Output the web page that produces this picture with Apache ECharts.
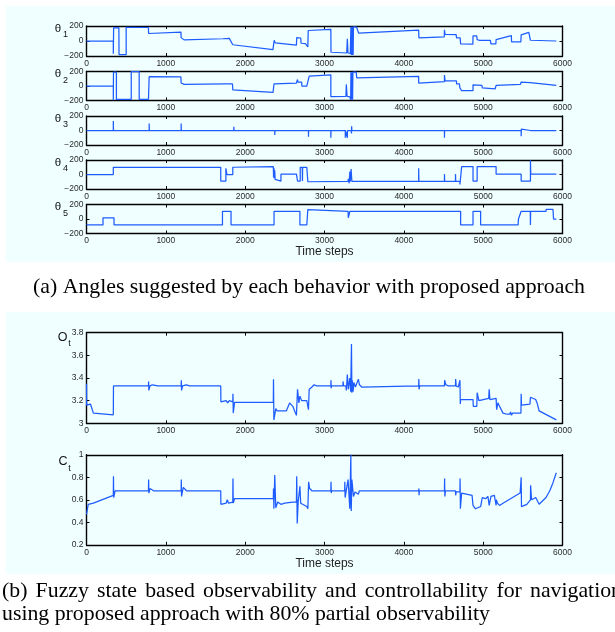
<!DOCTYPE html>
<html><head><meta charset="utf-8">
<script src="https://cdn.jsdelivr.net/npm/echarts@6/dist/echarts.min.js"></script>
<style>html,body{margin:0;padding:0;background:#fff}#c{width:615px;height:632px}</style>
</head><body><div id="c"></div>
<script>
// ---------------- data (time step, value) ----------------
const xTickValues = [0, 1000, 2000, 3000, 4000, 5000, 6000];
const thetaTicks = [-200, 0, 200];
const obsTicks = [3, 3.2, 3.4, 3.6, 3.8];
const ctrlTicks = [0.2, 0.4, 0.6, 0.8, 1];

const theta1 = [[0,0],[338,0],[338,-170],[342,175],[408,178],[410,-180],[500,-180],[500,182],[780,180],[783,100],[790,85],[800,100],[1190,118],[1193,45],[1230,15],[1720,30],[1800,35],[1844,-50],[2350,-115],[2364,-115],[2366,10],[2380,-25],[2646,-55],[2650,45],[2700,40],[2705,-30],[2760,-35],[2790,-80],[2795,140],[3080,155],[3082,-150],[3280,-160],[3288,30],[3296,-160],[3325,-165],[3330,-185],[3333,190],[3337,-185],[3341,190],[3345,-185],[3349,190],[3353,-185],[3357,190],[3361,-185],[3365,190],[3405,185],[3430,105],[4187,145],[4190,43],[4510,55],[4512,150],[4520,87],[4660,85],[4664,43],[4710,43],[4716,-38],[4870,-43],[4872,67],[4920,67],[4924,19],[4935,25],[4950,10],[5090,10],[5098,-38],[5160,-38],[5163,19],[5355,72],[5358,-10],[5475,-10],[5479,82],[5575,115],[5596,10],[5922,0]];

const theta2 = [[0,0],[338,0],[338,-195],[340,190],[377,190],[377,-185],[564,-185],[564,200],[664,200],[664,-185],[781,-185],[790,128],[800,118],[1190,125],[1193,41],[1230,22],[1750,31],[1840,28],[1844,-55],[2351,-89],[2364,31],[2646,41],[2660,89],[2665,55],[2712,55],[2715,-2],[2777,-2],[2790,-10],[2807,137],[3080,152],[3080,-147],[3270,-142],[3275,22],[3285,-142],[3320,-150],[3330,-190],[3333,190],[3338,-190],[3342,190],[3346,-190],[3350,190],[3354,-190],[3358,190],[3400,190],[3406,113],[4187,133],[4187,41],[4512,60],[4512,152],[4520,70],[4664,70],[4664,31],[4700,31],[4707,-26],[4729,-65],[4872,-65],[4872,17],[4880,7],[4985,7],[4989,-26],[5000,-41],[5150,-41],[5163,7],[5470,22],[5479,55],[5590,46],[5596,31],[5922,7]];

const theta3 = [[0,0],[338,0],[338,130],[340,0],[790,0],[790,95],[792,0],[1193,0],[1193,95],[1195,0],[1857,0],[1857,52],[1860,0],[2373,0],[2373,-62],[2375,0],[2660,0],[2662,-20],[2668,10],[2670,0],[2798,0],[2798,-86],[2800,0],[3080,0],[3080,-100],[3082,0],[3262,0],[3262,-100],[3264,0],[3288,0],[3288,-100],[3290,0],[3338,0],[3340,-40],[3342,57],[3345,0],[4512,0],[4512,-100],[4514,0],[4716,0],[4716,20],[4718,-20],[4720,0],[5479,0],[5479,-80],[5481,20],[5483,0],[5596,0],[5596,20],[5598,0],[5922,0]];

const theta4 = [[0,0],[338,0],[338,100],[1692,100],[1692,-90],[1757,-90],[1757,86],[1770,0],[1844,0],[1844,100],[1853,110],[2355,110],[2358,-40],[2362,90],[2366,-50],[2372,60],[2378,-67],[2386,-90],[2451,-90],[2451,5],[2646,5],[2660,-90],[2694,-90],[2694,100],[2720,100],[2722,-90],[2724,100],[2777,100],[2790,-100],[3297,-95],[3300,-60],[3310,-120],[3320,40],[3325,-100],[3335,76],[3345,-95],[4187,-95],[4187,86],[4190,-95],[4512,-95],[4512,5],[4515,-95],[4651,-95],[4651,5],[4654,-95],[4707,-95],[4707,-138],[4729,110],[4872,110],[4872,-90],[4924,-90],[4924,110],[5163,110],[5163,5],[5479,5],[5479,-90],[5596,-90],[5596,195],[5600,5],[5922,5]];

const theta5 = [[0,-82],[208,-82],[208,16],[347,16],[347,-82],[1714,-82],[1714,106],[1822,106],[1822,-82],[1850,-82],[1857,-60],[1862,-82],[2364,-82],[2364,106],[2620,106],[2625,120],[2630,106],[2690,106],[2690,-82],[2777,-82],[2790,130],[2800,106],[3297,106],[3300,16],[3310,60],[3319,106],[4716,106],[4716,-82],[4872,-82],[4872,106],[4968,106],[4968,-82],[5350,-82],[5358,-106],[5365,-82],[5440,-82],[5445,0],[5470,0],[5479,106],[5594,106],[5596,-82],[5598,106],[5792,106],[5795,134],[5880,134],[5887,0],[5922,0]];

const observability = [[0,3.35],[2,3.16],[50,3.17],[87,3.09],[338,3.075],[340,3.33],[360,3.345],[400,3.33],[781,3.33],[783,3.37],[786,3.29],[800,3.33],[830,3.34],[900,3.33],[1193,3.33],[1195,3.38],[1198,3.29],[1210,3.33],[1258,3.34],[1300,3.33],[1692,3.33],[1694,3.19],[1760,3.2],[1780,3.18],[1800,3.2],[1844,3.19],[1846,3.26],[1850,3.09],[1866,3.185],[2355,3.185],[2357,3.39],[2362,3.03],[2386,3.13],[2400,3.11],[2520,3.11],[2560,3.18],[2600,3.15],[2646,3.07],[2660,3.30],[2677,3.18],[2690,3.24],[2712,3.2],[2777,3.2],[2798,3.12],[2807,3.3],[2842,3.32],[2870,3.34],[2900,3.33],[3080,3.33],[3082,3.38],[3084,3.31],[3090,3.33],[3232,3.33],[3234,3.37],[3240,3.33],[3270,3.33],[3275,3.29],[3288,3.43],[3300,3.3],[3319,3.4],[3330,3.28],[3340,3.70],[3345,3.27],[3350,3.38],[3360,3.28],[3370,3.36],[3390,3.32],[3427,3.39],[3440,3.34],[3470,3.32],[4187,3.33],[4189,3.39],[4192,3.30],[4200,3.33],[4512,3.33],[4514,3.38],[4530,3.34],[4560,3.33],[4651,3.33],[4653,3.39],[4660,3.33],[4686,3.32],[4707,3.38],[4712,3.17],[4716,3.21],[4872,3.21],[4875,3.15],[4920,3.15],[4924,3.27],[4946,3.2],[4960,3.21],[5070,3.22],[5076,3.30],[5085,3.21],[5163,3.22],[5170,3.12],[5185,3.18],[5200,3.16],[5250,3.09],[5300,3.08],[5336,3.08],[5345,3.1],[5358,3.07],[5370,3.09],[5476,3.09],[5479,3.26],[5483,3.16],[5590,3.17],[5596,3.23],[5662,3.21],[5680,3.18],[5705,3.11],[5922,3.03]];

const controllability = [[0,0.47],[22,0.56],[43,0.55],[87,0.57],[338,0.64],[340,0.81],[343,0.62],[360,0.68],[390,0.68],[781,0.68],[783,0.78],[786,0.66],[800,0.70],[846,0.68],[1193,0.68],[1195,0.78],[1198,0.63],[1220,0.71],[1260,0.68],[1692,0.68],[1694,0.56],[1760,0.57],[1775,0.6],[1790,0.57],[1844,0.58],[1846,0.79],[1850,0.57],[1866,0.61],[2355,0.61],[2357,0.70],[2362,0.52],[2373,0.82],[2386,0.53],[2410,0.58],[2450,0.56],[2500,0.57],[2600,0.58],[2646,0.58],[2650,0.81],[2656,0.39],[2668,0.58],[2690,0.72],[2700,0.57],[2777,0.54],[2790,0.52],[2800,0.76],[2812,0.70],[2842,0.68],[3080,0.68],[3082,0.76],[3085,0.66],[3090,0.68],[3254,0.68],[3256,0.76],[3260,0.62],[3297,0.78],[3319,0.52],[3332,1.0],[3337,0.50],[3345,0.78],[3365,0.63],[3385,0.67],[3427,0.65],[3440,0.68],[3470,0.68],[4187,0.68],[4189,0.70],[4192,0.64],[4195,0.68],[4512,0.68],[4514,0.79],[4517,0.63],[4525,0.68],[4651,0.68],[4653,0.64],[4660,0.67],[4707,0.67],[4709,0.79],[4713,0.52],[4729,0.66],[4860,0.64],[4872,0.55],[4903,0.52],[4924,0.53],[4968,0.54],[4989,0.62],[5000,0.63],[5030,0.61],[5060,0.63],[5076,0.55],[5098,0.63],[5141,0.64],[5163,0.55],[5166,0.60],[5180,0.57],[5206,0.55],[5250,0.57],[5466,0.66],[5479,0.80],[5483,0.54],[5550,0.56],[5596,0.60],[5598,0.73],[5610,0.60],[5662,0.62],[5705,0.56],[5792,0.62],[5840,0.68],[5879,0.75],[5922,0.84]];

const captionA = '(a) Angles suggested by each behavior with proposed approach';
const captionB1 = '(b) Fuzzy state based observability and controllability for navigation';
const captionB2 = 'using proposed approach with 80% partial observability';
const xTitle = 'Time steps';

// ---------------- layout ----------------
const LINE = '#1e5cff';
const SANS = '"Liberation Sans", Arial, sans-serif';
const SERIF = '"Liberation Serif", "Times New Roman", serif';
const PL = 86.5, PW = 476;

const panels = [
  {data: theta1, ticks: thetaTicks, top: 26,    h: 30,   lab: 'θ', sub: '1'},
  {data: theta2, ticks: thetaTicks, top: 71.5,  h: 29,   lab: 'θ', sub: '2'},
  {data: theta3, ticks: thetaTicks, top: 116,   h: 29,   lab: 'θ', sub: '3'},
  {data: theta4, ticks: thetaTicks, top: 160,   h: 29,   lab: 'θ', sub: '4'},
  {data: theta5, ticks: thetaTicks, top: 204.5, h: 29,   lab: 'θ', sub: '5'},
  {data: observability, ticks: obsTicks, top: 332.7, h: 90.6, lab: 'O', sub: 't'},
  {data: controllability, ticks: ctrlTicks, top: 454.8, h: 90, lab: 'C', sub: 't'}
];

function fmtY(v) {
  const r = Math.round(v * 10) / 10;
  return r < 0 ? '\u2212' + String(-r) : String(r);
}
function fmtX(v) { return String(Math.round(v)); }

const grid = [], xAxis = [], yAxis = [], series = [];
const axLine = {show: true, onZero: false, lineStyle: {color: '#000', width: 1.4}};
const axTick = {show: true, inside: true, length: 3, lineStyle: {color: '#000', width: 1}};
const tickFont = {fontSize: 8.5, color: '#2a2a2a', margin: 3, fontFamily: SANS, showMinLabel: true, showMaxLabel: true};
panels.forEach((p, i) => {
  grid.push({left: PL, top: p.top, width: PW, height: p.h, containLabel: false});
  const xmin = xTickValues[0], xmax = xTickValues[xTickValues.length - 1];
  const xint = xTickValues[1] - xTickValues[0];
  const ymin = p.ticks[0], ymax = p.ticks[p.ticks.length - 1];
  const yint = +(p.ticks[1] - p.ticks[0]).toFixed(6);
  xAxis.push({type: 'value', gridIndex: i, position: 'bottom', min: xmin, max: xmax, interval: xint,
    axisLine: axLine, axisTick: axTick, splitLine: {show: false},
    axisLabel: Object.assign({formatter: fmtX}, tickFont)});
  xAxis.push({type: 'value', gridIndex: i, position: 'top', min: xmin, max: xmax, interval: xint,
    axisLine: axLine, axisTick: axTick, splitLine: {show: false}, axisLabel: {show: false}});
  yAxis.push({type: 'value', gridIndex: i, position: 'left', min: ymin, max: ymax, interval: yint,
    axisLine: axLine, axisTick: axTick, splitLine: {show: false},
    axisLabel: Object.assign({formatter: fmtY}, tickFont)});
  yAxis.push({type: 'value', gridIndex: i, position: 'right', min: ymin, max: ymax, interval: yint,
    axisLine: axLine, axisTick: axTick, splitLine: {show: false}, axisLabel: {show: false}});
  series.push({type: 'line', xAxisIndex: 2 * i, yAxisIndex: 2 * i, data: p.data, showSymbol: false, symbol: 'none',
    lineStyle: {color: LINE, width: 1.25}, silent: true, clip: true});
});

function txt(x, y, text, size, family, align, valign, fill) {
  return {type: 'text', x: x, y: y, z: 10, silent: true,
    style: {text: text, fontSize: size, fontFamily: family, fill: fill || '#000',
      align: align, textAlign: align, verticalAlign: valign, textVerticalAlign: valign}};
}

const graphic = [
  {type: 'rect', shape: {x: 6, y: 6, width: 609, height: 256}, style: {fill: '#f0ffff'}, z: -10, silent: true},
  {type: 'rect', shape: {x: 6, y: 312, width: 609, height: 262}, style: {fill: '#f0ffff'}, z: -10, silent: true}
];
panels.forEach((p, i) => {
  if (i < 5) {
    graphic.push(txt(58, p.top + 2.5, p.lab, 11.5, SANS, 'center', 'middle', '#111'));
    graphic.push(txt(65.5, p.top + 9, p.sub, 9, SANS, 'center', 'middle', '#111'));
  } else if (i === 5) {
    graphic.push(txt(62.5, p.top + 4.5, p.lab, 12.5, SANS, 'center', 'middle', '#111'));
    graphic.push(txt(69.5, p.top + 11, p.sub, 9, SANS, 'center', 'middle', '#111'));
  } else {
    graphic.push(txt(63, p.top + 7, p.lab, 12.5, SANS, 'center', 'middle', '#111'));
    graphic.push(txt(69.5, p.top + 13.5, p.sub, 9, SANS, 'center', 'middle', '#111'));
  }
});
graphic.push(txt(PL + PW / 2, 251.7, xTitle, 12, SANS, 'center', 'middle', '#222'));
graphic.push(txt(PL + PW / 2, 563.6, xTitle, 12, SANS, 'center', 'middle', '#222'));

const CAP = 21.8;
graphic.push(txt(33, 287, captionA, CAP, SERIF, 'left', 'middle'));
// justified first line of caption (b)
(function () {
  const ctx = document.createElement('canvas').getContext('2d');
  ctx.font = CAP + 'px ' + SERIF;
  const words = captionB1.split(' ');
  const widths = words.map(w => ctx.measureText(w).width);
  const total = widths.reduce((a, b) => a + b, 0);
  const x0 = 2, x1 = 622;
  const gap = (x1 - x0 - total) / (words.length - 1);
  let x = x0;
  words.forEach((w, k) => {
    graphic.push(txt(x, 591, w, CAP, SERIF, 'left', 'middle'));
    x += widths[k] + gap;
  });
})();
graphic.push(txt(2, 614, captionB2, CAP, SERIF, 'left', 'middle'));

const chart = echarts.init(document.getElementById('c'), null, {renderer: 'canvas'});
chart.setOption({animation: false, backgroundColor: '#ffffff', grid, xAxis, yAxis, series, graphic});
</script>
</body></html>
